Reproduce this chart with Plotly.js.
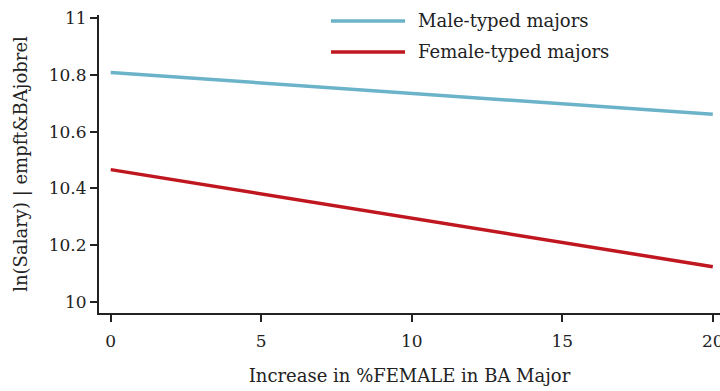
<!DOCTYPE html>
<html>
<head>
<meta charset="utf-8">
<script src="https://cdn.plot.ly/plotly-3.0.1.min.js"></script>
<style>body{margin:0;padding:0;background:#fff}#chart{width:720px;height:391px}</style>
</head>
<body>
<div id="chart"></div>
<script>
const xValues = [0, 10, 20];
const maleTyped = [10.808, 10.735, 10.661];
const femaleTyped = [10.466, 10.295, 10.124];
const seriesNames = ["Male-typed majors", "Female-typed majors"];
const seriesColors = ["#6bb3c9", "#c0161f"];
const xTicks = [0, 5, 10, 15, 20];
const yTicks = [10, 10.2, 10.4, 10.6, 10.8, 11];
const yTickText = ["10", "10.2", "10.4", "10.6", "10.8", "11"];

const titleFont = {family: "DejaVu Serif", size: 18, color: "#222"};
const tickFont = {family: "DejaVu Serif", size: 17, color: "#222"};

const traces = [
  {x: xValues, y: maleTyped, name: seriesNames[0], mode: "lines", line: {color: seriesColors[0], width: 3.5}},
  {x: xValues, y: femaleTyped, name: seriesNames[1], mode: "lines", line: {color: seriesColors[1], width: 3.5}}
];

const legendY = [0.98, 0.876];
const shapes = [];
const annotations = [];
seriesNames.forEach((n, i) => {
  shapes.push({type: "line", xref: "paper", yref: "paper", x0: 0.3736, x1: 0.4928, y0: legendY[i], y1: legendY[i],
    line: {color: seriesColors[i], width: 3.5}});
  annotations.push({xref: "paper", yref: "paper", x: 0.51, y: legendY[i], text: n, showarrow: false,
    xanchor: "left", yanchor: "middle", font: titleFont});
});

const layout = {
  width: 720, height: 391,
  margin: {l: 99, r: 0, t: 15, b: 78},
  paper_bgcolor: "#fff", plot_bgcolor: "#fff",
  font: tickFont,
  showlegend: false,
  xaxis: {
    range: [-0.39, 20.24], tickvals: xTicks, ticks: "outside", ticklen: 7, tickwidth: 2, tickcolor: "#222",
    tickfont: tickFont, ticklabelstandoff: 5, ticklabeloverflow: "allow",
    showline: true, linecolor: "#222", linewidth: 2, showgrid: false, zeroline: false,
    title: {text: "Increase in %FEMALE in BA Major", font: titleFont, standoff: 19}
  },
  yaxis: {
    range: [9.961, 11.0106], tickvals: yTicks, ticktext: yTickText, ticks: "outside", ticklen: 7, tickwidth: 2, tickcolor: "#222",
    tickfont: tickFont,
    showline: true, linecolor: "#222", linewidth: 2, showgrid: false, zeroline: false,
    title: {text: "ln(Salary) | empft&BAjobrel", font: titleFont, standoff: 16}
  },
  shapes: shapes,
  annotations: annotations
};
Plotly.newPlot("chart", traces, layout, {displayModeBar: false, staticPlot: true});
</script>
</body>
</html>
